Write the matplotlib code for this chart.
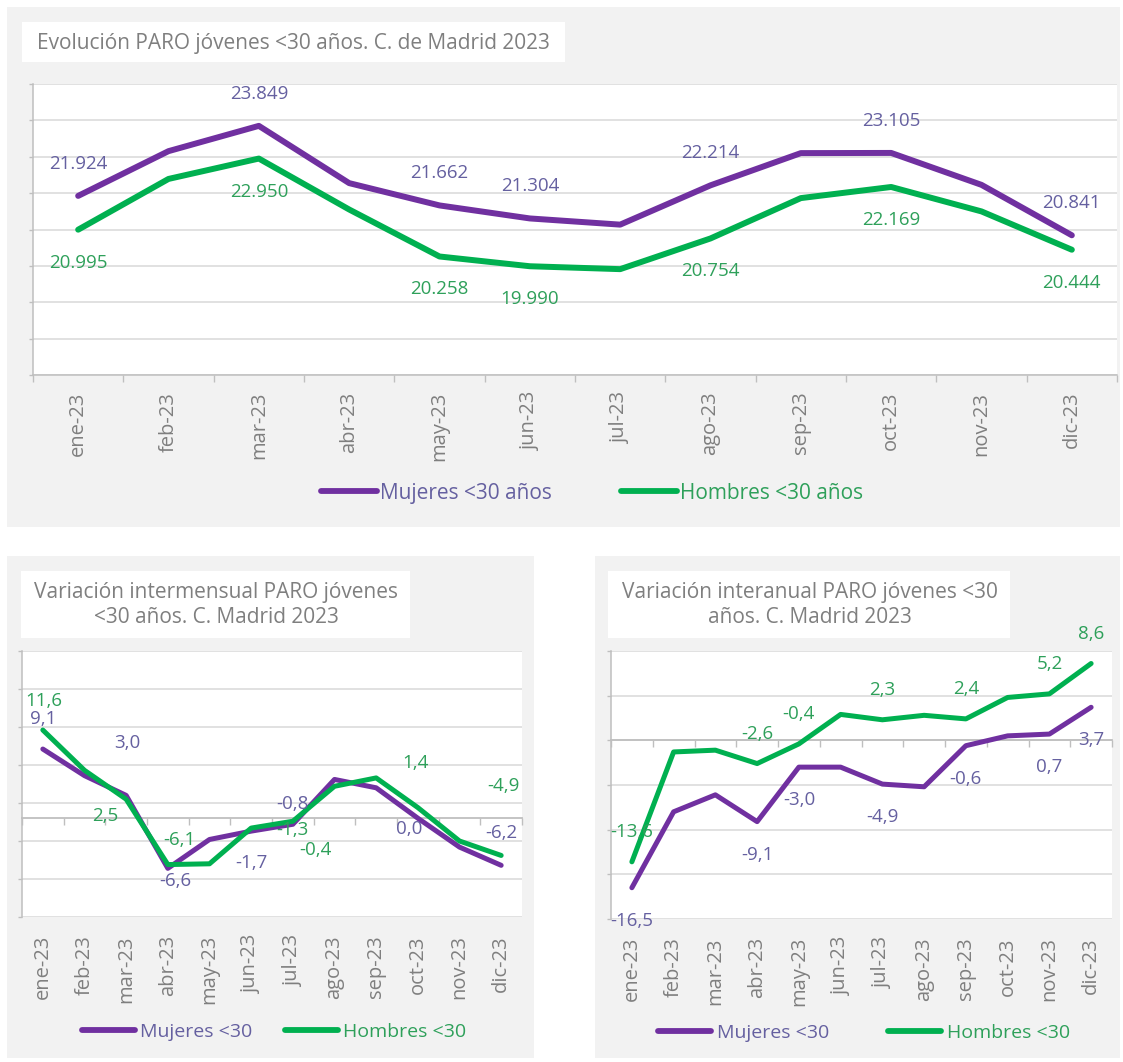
import numpy as np
import matplotlib.pyplot as plt
from matplotlib.patches import Rectangle
from matplotlib.lines import Line2D

plt.rcParams['font.family'] = ['Open Sans', 'DejaVu Sans']

# ---- datos ----
meses = ["ene-23", "feb-23", "mar-23", "abr-23", "may-23", "jun-23",
         "jul-23", "ago-23", "sep-23", "oct-23", "nov-23", "dic-23"]

paro_mujeres = [21924, 23154, 23849, 22275, 21662, 21304,
                21134, 22214, 23100, 23105, 22227, 20841]
paro_hombres = [20995, 22390, 22950, 21550, 20258, 19990,
                19910, 20754, 21863, 22169, 21497, 20444]

mensual_mujeres = [9.1, 5.6, 3.0, -6.6, -2.8, -1.7, -0.8, 5.1, 4.0, 0.0, -3.8, -6.2]
mensual_hombres = [11.6, 6.3, 2.5, -6.1, -6.0, -1.3, -0.4, 4.2, 5.3, 1.4, -3.0, -4.9]

anual_mujeres = [-16.5, -8.0, -6.1, -9.1, -3.0, -3.0, -4.9, -5.2, -0.6, 0.5, 0.7, 3.7]
anual_hombres = [-13.6, -1.3, -1.1, -2.6, -0.4, 2.9, 2.3, 2.8, 2.4, 4.8, 5.2, 8.6]

# meses con etiqueta de dato
idx_paro = [0, 2, 4, 5, 7, 9, 11]
idx_mensual = [0, 2, 3, 5, 6, 9, 11]
idx_anual = [0, 3, 4, 6, 8, 10, 11]

# ---- estilo ----
MORADO = "#7030A0"
VERDE = "#00B050"
TXT_MORADO = "#6560A0"
TXT_VERDE = "#2EA05A"
GRIS_FONDO = "#F2F2F2"
GRIS_GRID = "#D9D9D9"
GRIS_EJE = "#BFBFBF"
GRIS_TXT = "#7F7F7F"

W, H = 1123, 1062
fig = plt.figure(figsize=(W / 100, H / 100), dpi=100)
fig.patch.set_facecolor("white")


def rect(x0, y0, x1, y1, color):
    fig.add_artist(Rectangle((x0 / W, 1 - y1 / H), (x1 - x0) / W, (y1 - y0) / H,
                             transform=fig.transFigure, facecolor=color,
                             edgecolor="none", zorder=-2))


def axes_px(x0, y0, x1, y1):
    return fig.add_axes([x0 / W, 1 - y1 / H, (x1 - x0) / W, (y1 - y0) / H])


def estilo_ejes(ax, ymin, ymax, step):
    x = np.arange(len(meses))
    ax.set_xlim(-0.5, len(meses) - 0.5)
    ax.set_ylim(ymin, ymax)
    ax.set_yticks(np.arange(ymin, ymax + step / 2, step))
    ax.set_yticklabels([])
    ax.grid(axis="y", color=GRIS_GRID, lw=1.1)
    ax.set_axisbelow(True)
    for s in ["top", "right"]:
        ax.spines[s].set_visible(False)
    ax.spines["left"].set_color(GRIS_EJE)
    ax.spines["left"].set_linewidth(1.1)
    ax.tick_params(axis="y", length=3, width=1, color=GRIS_EJE)
    return x


def etiquetas(ax, x, vals, idx, offsets, color, fmt):
    for i, (dx, dy) in zip(idx, offsets):
        ax.annotate(fmt(vals[i]), (x[i], vals[i]), xytext=(dx, -dy),
                    textcoords="offset pixels", ha="center", va="center",
                    fontsize=13.5, color=color, zorder=5)


def fmt_miles(v):
    return f"{v:,}".replace(",", ".")


def fmt_dec(v):
    return f"{v:.1f}".replace(".", ",")


def lineas(ax, x, muj, hom, lw):
    ax.plot(x, muj, color=MORADO, lw=lw, solid_capstyle="round",
            solid_joinstyle="round", zorder=3)
    ax.plot(x, hom, color=VERDE, lw=lw, solid_capstyle="round",
            solid_joinstyle="round", zorder=3)


def leyenda(labels, cx, cy, fs, hl, pad, cs):
    handles = [Line2D([], [], color=MORADO, lw=4.2, solid_capstyle="round"),
               Line2D([], [], color=VERDE, lw=4.2, solid_capstyle="round")]
    leg = fig.legend(handles, labels, loc="center", bbox_to_anchor=(cx / W, 1 - cy / H),
                     ncol=2, frameon=False, fontsize=fs, handlelength=hl,
                     handletextpad=pad, columnspacing=cs, borderpad=0)
    leg.get_texts()[0].set_color(TXT_MORADO)
    leg.get_texts()[1].set_color(TXT_VERDE)


# ---- paneles de fondo y cajas de título ----
rect(7, 7, 1120, 527, GRIS_FONDO)
rect(7, 556, 534, 1058, GRIS_FONDO)
rect(595, 556, 1120, 1058, GRIS_FONDO)
rect(22, 22, 565, 62, "white")
rect(21, 571, 410, 638, "white")
rect(608, 571, 1010, 638, "white")

fig.text(37 / W, 1 - 43 / H, "Evolución PARO jóvenes <30 años. C. de Madrid 2023",
         fontsize=15, color=GRIS_TXT, ha="left", va="center")
fig.text(216 / W, 1 - 605 / H, "Variación intermensual PARO jóvenes\n<30 años. C. Madrid 2023",
         fontsize=15, color=GRIS_TXT, ha="center", va="center", linespacing=1.3)
fig.text(810 / W, 1 - 605 / H, "Variación interanual PARO jóvenes <30\naños. C. Madrid 2023",
         fontsize=15, color=GRIS_TXT, ha="center", va="center", linespacing=1.3)

# ---- evolución del paro ----
ax1 = axes_px(33, 84, 1117, 375)
x = estilo_ejes(ax1, 17000, 25000, 1000)
ax1.spines["bottom"].set_color(GRIS_EJE)
ax1.spines["bottom"].set_linewidth(1.1)
ax1.set_xticks(np.arange(len(meses) + 1) - 0.5)
ax1.set_xticklabels([])
ax1.set_xticks(x, meses, minor=True)
ax1.tick_params(axis="x", which="major", length=5, width=1, color=GRIS_EJE)
ax1.tick_params(axis="x", which="minor", length=0, pad=12, labelsize=14.5,
                labelcolor=GRIS_TXT, labelrotation=90)
lineas(ax1, x, paro_mujeres, paro_hombres, 4.3)
etiquetas(ax1, x, paro_mujeres, idx_paro, [(0, -32)] * 7, TXT_MORADO, fmt_miles)
etiquetas(ax1, x, paro_hombres, idx_paro, [(0, 33)] * 7, TXT_VERDE, fmt_miles)
leyenda(["Mujeres <30 años", "Hombres <30 años"], 592, 493, 15, 2.7, 0.15, 3.3)


def panel_variacion(ax, muj, hom, ymin, ymax):
    x = estilo_ejes(ax, ymin, ymax, 5)
    ax.spines["bottom"].set_position(("data", 0))
    ax.spines["bottom"].set_color(GRIS_EJE)
    ax.spines["bottom"].set_linewidth(1.3)
    ax.set_xticks(np.arange(len(meses) + 1) - 0.5)
    ax.set_xticklabels([])
    ax.tick_params(axis="x", length=5, width=1, color=GRIS_EJE)
    sec = ax.secondary_xaxis("bottom")
    sec.set_xticks(x, meses)
    sec.spines["bottom"].set_visible(False)
    sec.tick_params(length=0, pad=13, labelsize=14.5, labelcolor=GRIS_TXT,
                    labelrotation=90)
    lineas(ax, x, muj, hom, 3.6)
    return x


# ---- variación intermensual ----
ax2 = axes_px(22, 651, 522, 917)
x = panel_variacion(ax2, mensual_mujeres, mensual_hombres, -13, 22)
etiquetas(ax2, x, mensual_mujeres, idx_mensual,
          [(0, -30), (1, -52), (7, 13), (0, 32), (0, -20), (-9, 11), (0, -32)],
          TXT_MORADO, fmt_dec)
etiquetas(ax2, x, mensual_hombres, idx_mensual,
          [(1, -29), (-21, 17), (12, -25), (41, 2), (23, 29), (-2, -45), (2, -69)],
          TXT_VERDE, fmt_dec)
leyenda(["Mujeres <30", "Hombres <30"], 274, 1032, 14, 2.73, 0.27, 1.67)

# ---- variación interanual ----
ax3 = axes_px(611, 651, 1112, 919)
x = panel_variacion(ax3, anual_mujeres, anual_hombres, -20, 10)
etiquetas(ax3, x, anual_mujeres, idx_anual, [(0, 33)] * 7, TXT_MORADO, fmt_dec)
etiquetas(ax3, x, anual_hombres, idx_anual, [(0, -30)] * 7, TXT_VERDE, fmt_dec)
leyenda(["Mujeres <30", "Hombres <30"], 864, 1033, 14, 2.73, 0.3, 3.04)

fig.savefig("out.png", dpi=100)
